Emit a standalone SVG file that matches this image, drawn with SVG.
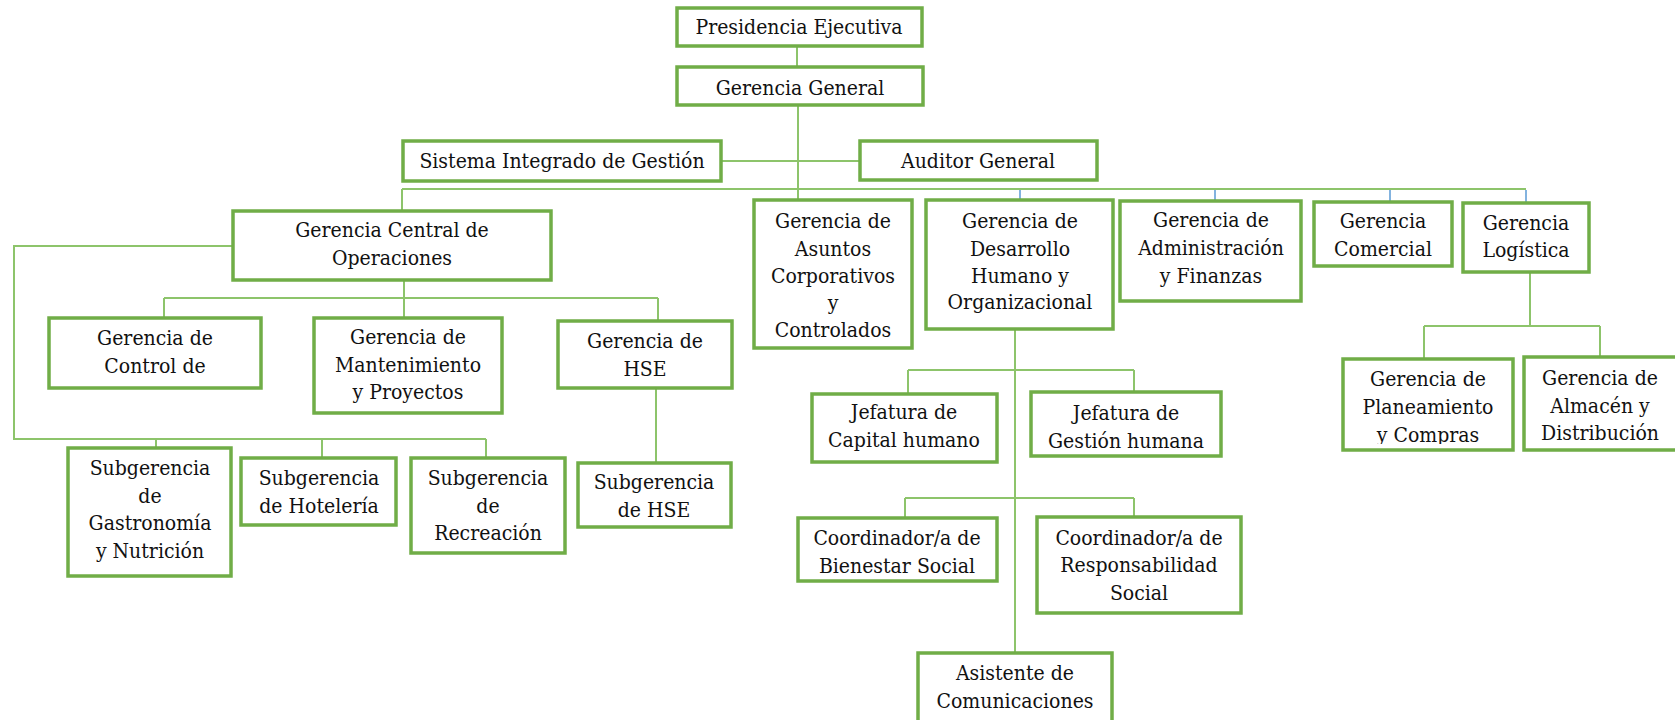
<svg xmlns="http://www.w3.org/2000/svg" width="1675" height="720" viewBox="0 0 1675 720">
<style>
.box{fill:#fff;stroke:#70AD47;stroke-width:3.5}
.ln{fill:none;stroke:#8DC46B;stroke-width:2}
.bl{fill:none;stroke:#5B9BD5;stroke-width:1.5}
.t text{font-family:"DejaVu Serif Condensed","DejaVu Serif",serif;font-stretch:condensed;font-size:21px;fill:#111;text-anchor:middle}
</style>
<defs>
<clipPath id="clipPlan"><rect x="1343" y="359" width="170" height="85"/></clipPath>
</defs>
<rect width="1675" height="720" fill="#fff"/>
<g id="connectors">
<path class="ln" d="M797 46V67"/>
<path class="ln" d="M798 105V200"/>
<path class="ln" d="M721 161H860"/>
<path class="ln" d="M402 189H1526"/>
<path class="ln" d="M402 189V211"/>
<path class="bl" d="M1020 190V200M1215 190V201M1390 190V202M1526 190V203"/>
<path class="ln" d="M233 246H14V439H486"/>
<path class="ln" d="M156 439V448M322 439V458M486 439V458"/>
<path class="ln" d="M404 280V318"/>
<path class="ln" d="M164 298H658"/>
<path class="ln" d="M164 298V318M658 298V321"/>
<path class="ln" d="M656 388V463"/>
<path class="ln" d="M1015 329V653"/>
<path class="ln" d="M908 370H1134M908 370V394M1134 370V392"/>
<path class="ln" d="M905 498H1134M905 498V518M1134 498V517"/>
<path class="ln" d="M1530 272V326M1424 326H1600M1424 326V359M1600 326V357"/>
</g>
<g class="t">
<g id="presidencia"><rect class="box" x="677" y="8" width="245" height="38"/><text x="799" y="34">Presidencia Ejecutiva</text></g>
<g id="gerencia-general"><rect class="box" x="677" y="67" width="246" height="38"/><text x="800" y="95">Gerencia General</text></g>
<g id="sistema"><rect class="box" x="403" y="141" width="318" height="40"/><text x="562" y="168">Sistema Integrado de Gestión</text></g>
<g id="auditor"><rect class="box" x="860" y="141" width="237" height="39"/><text x="978" y="168">Auditor General</text></g>
<g id="central"><rect class="box" x="233" y="211" width="318" height="69"/><text x="392" y="237">Gerencia Central de</text><text x="392" y="265">Operaciones</text></g>
<g id="asuntos"><rect class="box" x="754" y="200" width="158" height="148"/><text x="833" y="228">Gerencia de</text><text x="833" y="256">Asuntos</text><text x="833" y="283">Corporativos</text><text x="833" y="310">y</text><text x="833" y="337">Controlados</text></g>
<g id="desarrollo"><rect class="box" x="926" y="200" width="187" height="129"/><text x="1020" y="228">Gerencia de</text><text x="1020" y="256">Desarrollo</text><text x="1020" y="283">Humano y</text><text x="1020" y="309">Organizacional</text></g>
<g id="admin"><rect class="box" x="1120" y="201" width="181" height="100"/><text x="1211" y="227">Gerencia de</text><text x="1211" y="255">Administración</text><text x="1211" y="283">y Finanzas</text></g>
<g id="comercial"><rect class="box" x="1314" y="202" width="138" height="64"/><text x="1383" y="228">Gerencia</text><text x="1383" y="256">Comercial</text></g>
<g id="logistica"><rect class="box" x="1463" y="203" width="126" height="69"/><text x="1526" y="230">Gerencia</text><text x="1526" y="257">Logística</text></g>
<g id="control"><rect class="box" x="49" y="318" width="212" height="70"/><text x="155" y="345">Gerencia de</text><text x="155" y="373">Control de</text></g>
<g id="mantenimiento"><rect class="box" x="314" y="318" width="188" height="95"/><text x="408" y="344">Gerencia de</text><text x="408" y="372">Mantenimiento</text><text x="408" y="399">y Proyectos</text></g>
<g id="hse"><rect class="box" x="558" y="321" width="174" height="67"/><text x="645" y="348">Gerencia de</text><text x="645" y="376">HSE</text></g>
<g id="gastronomia"><rect class="box" x="68" y="448" width="163" height="128"/><text x="150" y="475">Subgerencia</text><text x="150" y="503">de</text><text x="150" y="530">Gastronomía</text><text x="150" y="558">y Nutrición</text></g>
<g id="hoteleria"><rect class="box" x="241" y="458" width="155" height="67"/><text x="319" y="485">Subgerencia</text><text x="319" y="513">de Hotelería</text></g>
<g id="recreacion"><rect class="box" x="411" y="458" width="154" height="95"/><text x="488" y="485">Subgerencia</text><text x="488" y="513">de</text><text x="488" y="540">Recreación</text></g>
<g id="sub-hse"><rect class="box" x="578" y="463" width="153" height="64"/><text x="654" y="489">Subgerencia</text><text x="654" y="517">de HSE</text></g>
<g id="jef-capital"><rect class="box" x="812" y="394" width="185" height="68"/><text x="904" y="419">Jefatura de</text><text x="904" y="447">Capital humano</text></g>
<g id="jef-gestion"><rect class="box" x="1031" y="392" width="190" height="64"/><text x="1126" y="420">Jefatura de</text><text x="1126" y="448">Gestión humana</text></g>
<g id="bienestar"><rect class="box" x="798" y="518" width="199" height="63"/><text x="897" y="545">Coordinador/a de</text><text x="897" y="573">Bienestar Social</text></g>
<g id="responsabilidad"><rect class="box" x="1037" y="517" width="204" height="96"/><text x="1139" y="545">Coordinador/a de</text><text x="1139" y="572">Responsabilidad</text><text x="1139" y="600">Social</text></g>
<g id="asistente"><rect class="box" x="918" y="653" width="194" height="80"/><text x="1015" y="680">Asistente de</text><text x="1015" y="708">Comunicaciones</text></g>
<g id="planeamiento"><rect class="box" x="1343" y="359" width="170" height="91"/><g clip-path="url(#clipPlan)"><text x="1428" y="386">Gerencia de</text><text x="1428" y="414">Planeamiento</text><text x="1428" y="442">y Compras</text></g></g>
<g id="almacen"><rect class="box" x="1524" y="357" width="160" height="93"/><text x="1600" y="385">Gerencia de</text><text x="1600" y="413">Almacén y</text><text x="1600" y="440">Distribución</text></g>
</g>
</svg>
